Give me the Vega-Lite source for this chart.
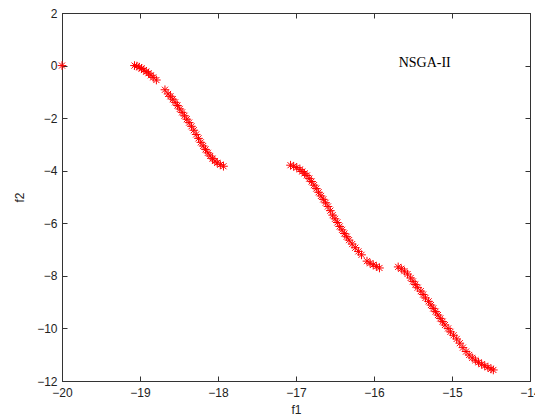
{
  "$schema": "https://vega.github.io/schema/vega-lite/v6.json",
  "autosize": {"type": "none"},
  "padding": {"left": 62, "top": 13, "right": 5, "bottom": 36},
  "width": 468,
  "height": 368,
  "background": "white",
  "config": {"view": {"stroke": "#333"}, "axis": {"grid": false, "domainColor": "#333", "tickColor": "#333", "labelFont": "Liberation Sans", "labelFontSize": 12, "labelColor": "#222", "titleFont": "Liberation Sans", "titleFontSize": 12, "titleFontWeight": "normal", "titleColor": "#222"}},
  "datasets": {
    "pts": [
      {"f1": -20.0, "f2": 0.0},
      {"f1": -19.07, "f2": 0.0}, {"f1": -19.04, "f2": -0.02}, {"f1": -19.01, "f2": -0.06}, {"f1": -18.98, "f2": -0.11}, {"f1": -18.95, "f2": -0.17}, {"f1": -18.92, "f2": -0.23}, {"f1": -18.89, "f2": -0.29}, {"f1": -18.86, "f2": -0.37}, {"f1": -18.83, "f2": -0.45}, {"f1": -18.79, "f2": -0.55},
      {"f1": -18.68, "f2": -0.92}, {"f1": -18.64, "f2": -1.08}, {"f1": -18.61, "f2": -1.17}, {"f1": -18.58, "f2": -1.28}, {"f1": -18.55, "f2": -1.4}, {"f1": -18.52, "f2": -1.52}, {"f1": -18.49, "f2": -1.65}, {"f1": -18.46, "f2": -1.78}, {"f1": -18.43, "f2": -1.91}, {"f1": -18.4, "f2": -2.04}, {"f1": -18.37, "f2": -2.17}, {"f1": -18.34, "f2": -2.31}, {"f1": -18.31, "f2": -2.46}, {"f1": -18.28, "f2": -2.62}, {"f1": -18.25, "f2": -2.77}, {"f1": -18.22, "f2": -2.92}, {"f1": -18.19, "f2": -3.06}, {"f1": -18.16, "f2": -3.19}, {"f1": -18.13, "f2": -3.32}, {"f1": -18.1, "f2": -3.44}, {"f1": -18.07, "f2": -3.54}, {"f1": -18.04, "f2": -3.63}, {"f1": -18.01, "f2": -3.7}, {"f1": -17.97, "f2": -3.77}, {"f1": -17.93, "f2": -3.83},
      {"f1": -17.07, "f2": -3.79}, {"f1": -17.03, "f2": -3.83}, {"f1": -16.99, "f2": -3.88}, {"f1": -16.95, "f2": -3.95}, {"f1": -16.92, "f2": -4.03}, {"f1": -16.89, "f2": -4.1}, {"f1": -16.86, "f2": -4.18}, {"f1": -16.83, "f2": -4.3}, {"f1": -16.8, "f2": -4.41}, {"f1": -16.77, "f2": -4.55}, {"f1": -16.74, "f2": -4.68}, {"f1": -16.71, "f2": -4.82}, {"f1": -16.68, "f2": -4.96}, {"f1": -16.65, "f2": -5.09}, {"f1": -16.62, "f2": -5.22}, {"f1": -16.59, "f2": -5.36}, {"f1": -16.56, "f2": -5.52}, {"f1": -16.53, "f2": -5.69}, {"f1": -16.5, "f2": -5.83}, {"f1": -16.47, "f2": -5.97}, {"f1": -16.44, "f2": -6.12}, {"f1": -16.41, "f2": -6.25}, {"f1": -16.38, "f2": -6.39}, {"f1": -16.35, "f2": -6.51}, {"f1": -16.32, "f2": -6.64}, {"f1": -16.28, "f2": -6.79}, {"f1": -16.24, "f2": -6.93}, {"f1": -16.2, "f2": -7.07}, {"f1": -16.16, "f2": -7.2}, {"f1": -16.09, "f2": -7.44}, {"f1": -16.05, "f2": -7.52}, {"f1": -16.01, "f2": -7.58}, {"f1": -15.97, "f2": -7.64}, {"f1": -15.93, "f2": -7.7},
      {"f1": -15.69, "f2": -7.66}, {"f1": -15.65, "f2": -7.73}, {"f1": -15.61, "f2": -7.82}, {"f1": -15.57, "f2": -7.93}, {"f1": -15.53, "f2": -8.08}, {"f1": -15.5, "f2": -8.21}, {"f1": -15.47, "f2": -8.33}, {"f1": -15.44, "f2": -8.45}, {"f1": -15.4, "f2": -8.58}, {"f1": -15.37, "f2": -8.71}, {"f1": -15.34, "f2": -8.84}, {"f1": -15.3, "f2": -8.97}, {"f1": -15.27, "f2": -9.11}, {"f1": -15.24, "f2": -9.24}, {"f1": -15.21, "f2": -9.36}, {"f1": -15.18, "f2": -9.49}, {"f1": -15.15, "f2": -9.62}, {"f1": -15.12, "f2": -9.74}, {"f1": -15.09, "f2": -9.87}, {"f1": -15.05, "f2": -10.0}, {"f1": -15.02, "f2": -10.13}, {"f1": -14.98, "f2": -10.26}, {"f1": -14.94, "f2": -10.4}, {"f1": -14.9, "f2": -10.56}, {"f1": -14.86, "f2": -10.73}, {"f1": -14.82, "f2": -10.88}, {"f1": -14.78, "f2": -11.01}, {"f1": -14.74, "f2": -11.12}, {"f1": -14.7, "f2": -11.21}, {"f1": -14.66, "f2": -11.29}, {"f1": -14.62, "f2": -11.36}, {"f1": -14.58, "f2": -11.42}, {"f1": -14.54, "f2": -11.48}, {"f1": -14.5, "f2": -11.54}, {"f1": -14.47, "f2": -11.58}
    ],
    "lbl": [{"f1": -15.35, "f2": 0.1, "t": "NSGA-II"}]
  },
  "layer": [
    {
      "data": {"name": "pts"},
      "mark": {"type": "point", "shape": "M-1,0L1,0M0,-1L0,1M-0.7,-0.7L0.7,0.7M-0.7,0.7L0.7,-0.7", "filled": false, "stroke": "#ff0000", "strokeWidth": 1, "size": 75, "opacity": 1},
      "encoding": {
        "x": {"field": "f1", "type": "quantitative", "scale": {"domain": [-20, -14], "nice": false, "zero": false}, "axis": {"orient": "bottom", "title": "f1", "values": [-20, -19, -18, -17, -16, -15, -14], "tickSize": -5, "labelPadding": 11, "titlePadding": 6, "labelFlush": false}},
        "y": {"field": "f2", "type": "quantitative", "scale": {"domain": [-12, 2], "nice": false, "zero": false}, "axis": {"orient": "left", "title": "f2", "values": [-12, -10, -8, -6, -4, -2, 0, 2], "tickSize": -5, "labelPadding": 10, "titlePadding": 10, "labelFlush": false}}
      }
    },
    {
      "data": {"name": "lbl"},
      "mark": {"type": "text", "font": "Liberation Serif", "fontSize": 14, "color": "#000", "align": "center", "baseline": "middle"},
      "encoding": {
        "x": {"field": "f1", "type": "quantitative", "scale": {"domain": [-20, -14], "nice": false, "zero": false}, "axis": {"orient": "top", "title": null, "labels": false, "values": [-20, -19, -18, -17, -16, -15, -14], "tickSize": -5}},
        "y": {"field": "f2", "type": "quantitative", "scale": {"domain": [-12, 2], "nice": false, "zero": false}, "axis": {"orient": "right", "title": null, "labels": false, "values": [-12, -10, -8, -6, -4, -2, 0, 2], "tickSize": -5}},
        "text": {"field": "t"}
      }
    }
  ],
  "resolve": {"axis": {"x": "independent", "y": "independent"}}
}
